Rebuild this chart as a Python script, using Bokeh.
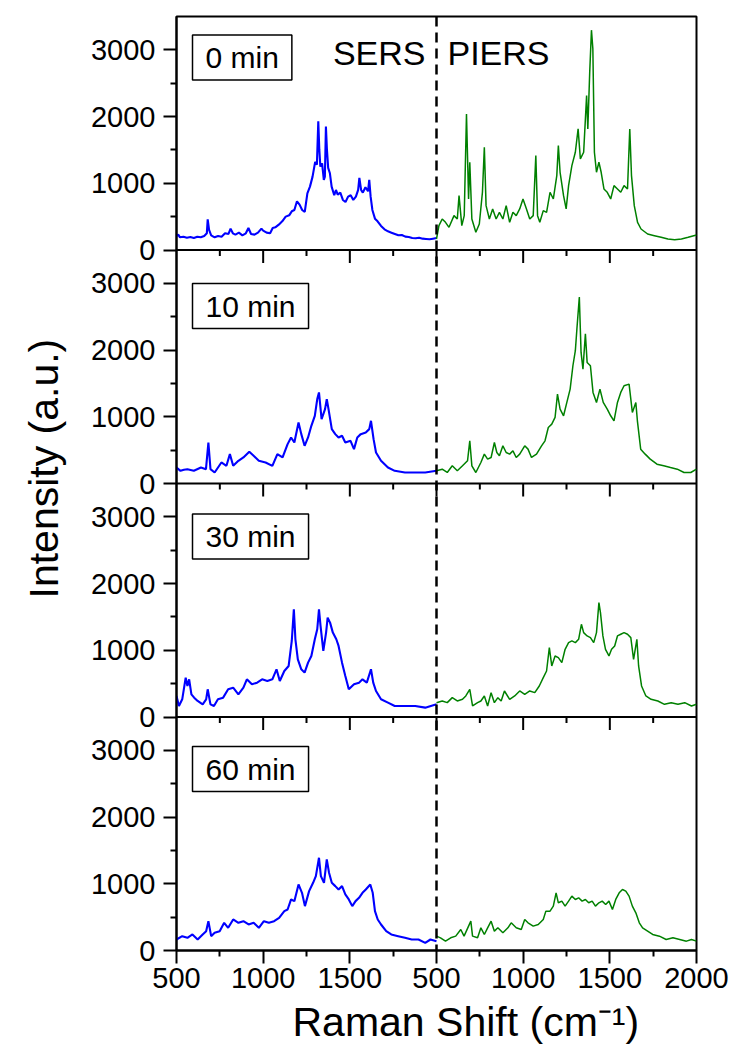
from math import pi
from bokeh.plotting import figure
from bokeh.models import Range1d, FixedTicker, Span, Label, Title
from bokeh.embed import file_html
from bokeh.resources import INLINE

# ---------------- data ----------------
panel_labels = ["0 min", "10 min", "30 min", "60 min"]

x_tick_positions = [500, 1000, 1500, 2000, 2500, 3000, 3500]
x_tick_labels = ["500", "1000", "1500", "500", "1000", "1500", "2000"]
y_tick_values = [0, 1000, 2000, 3000]
y_minor_values = [500, 1500, 2500]

# 0 min
sers_x_0 = [500,510,520,540,560,580,600,620,640,660,675,680,688,700,720,740,760,780,800,812,825,840,860,880,900,915,930,950,970,990,1000,1020,1040,1055,1070,1090,1110,1130,1150,1165,1180,1195,1210,1225,1240,1255,1270,1285,1300,1310,1318,1324,1330,1340,1350,1356,1362,1368,1375,1385,1395,1410,1420,1430,1445,1460,1475,1490,1505,1520,1535,1548,1555,1565,1575,1590,1605,1612,1620,1630,1645,1660,1680,1700,1720,1740,1760,1780,1800,1820,1840,1860,1880,1900,1920,1940,1960,1980,2000]
sers_y_0 = [210,230,190,200,185,195,180,200,190,210,250,460,300,220,190,210,200,250,240,320,250,230,260,220,250,330,240,230,260,320,290,260,250,330,340,380,430,500,520,580,600,730,680,600,570,850,950,1100,1320,1280,1930,1500,1250,1300,1050,1100,1850,1500,1230,1150,950,820,900,830,860,750,720,800,820,750,800,900,1080,900,860,940,880,1050,800,600,470,430,360,310,280,260,240,220,225,200,195,180,175,185,170,165,160,170,180]
piers_x_0 = [500,514,533,552,572,601,620,630,646,660,673,685,692,704,727,747,765,776,786,805,824,844,863,883,902,922,941,960,980,999,1019,1038,1058,1073,1083,1096,1116,1135,1155,1174,1194,1203,1213,1233,1248,1262,1281,1301,1317,1330,1349,1366,1373,1384,1394,1402,1411,1423,1437,1450,1466,1485,1505,1524,1544,1563,1582,1602,1615,1625,1641,1660,1680,1718,1757,1796,1835,1874,1913,1952,2000]
piers_y_0 = [165,365,465,415,340,515,465,815,365,515,2040,765,1315,465,265,390,865,1540,665,465,615,465,565,465,665,415,565,515,615,765,615,465,515,1415,515,415,590,565,865,765,1115,1565,1165,815,615,965,1265,1465,1815,1365,1465,2315,1815,2670,3295,3020,1465,1165,1315,1165,915,865,765,965,915,865,965,915,1815,1115,665,415,315,240,215,190,165,155,165,190,225]

# 10 min
sers_x_1 = [500,523,543,563,600,641,670,684,696,720,759,788,808,827,857,886,920,945,975,1014,1053,1082,1112,1141,1161,1180,1204,1220,1239,1259,1278,1298,1312,1322,1337,1357,1367,1377,1396,1416,1435,1455,1474,1504,1524,1543,1563,1592,1612,1622,1637,1651,1680,1720,1759,1818,1877,1935,2000]
sers_y_1 = [240,190,205,215,190,240,215,615,215,165,315,265,440,265,340,390,475,415,340,315,265,440,390,590,690,615,915,740,565,690,865,1015,1265,1365,965,1115,1265,1115,815,740,690,715,615,640,515,690,740,765,815,940,665,465,340,240,190,165,165,165,190]
piers_x_1 = [500,533,562,591,620,650,679,692,704,727,756,776,795,815,834,848,863,883,902,922,941,960,980,1009,1028,1048,1077,1106,1126,1145,1165,1184,1198,1213,1233,1252,1271,1287,1301,1310,1324,1334,1345,1359,1369,1388,1403,1423,1443,1462,1485,1505,1524,1544,1563,1582,1611,1630,1650,1659,1678,1704,1733,1772,1811,1850,1889,1928,1967,2000]
piers_y_1 = [190,215,165,265,190,265,340,640,265,165,315,440,365,390,615,465,415,565,465,440,490,390,440,565,515,390,440,565,640,840,890,990,1340,1115,1015,1215,1415,1765,1990,2315,2795,1965,1715,2245,1815,1765,1365,1215,1415,1215,1115,1015,940,1215,1365,1465,1490,1065,1215,940,515,440,365,290,265,240,215,165,165,215]

# 30 min
sers_x_2 = [500,514,533,553,563,573,586,602,622,651,671,680,696,716,739,769,798,827,857,886,906,935,965,994,1024,1053,1077,1096,1122,1147,1165,1177,1186,1200,1220,1239,1259,1278,1298,1312,1322,1331,1347,1363,1372,1386,1402,1422,1435,1455,1474,1494,1524,1553,1573,1598,1622,1635,1651,1680,1720,1759,1818,1877,1935,2000]
sers_y_2 = [315,165,265,590,465,565,340,290,240,190,265,415,190,165,265,290,415,440,340,440,565,490,515,565,540,565,715,540,690,765,1140,1615,1165,865,715,665,815,915,1165,1315,1615,1365,990,1265,1490,1415,1265,1165,1065,815,615,415,490,515,565,515,715,515,390,265,215,165,165,165,140,190]
piers_x_2 = [500,533,562,591,620,650,669,692,708,737,756,776,795,815,834,854,873,892,922,951,980,1009,1038,1067,1093,1116,1135,1151,1165,1184,1203,1223,1242,1262,1281,1301,1320,1336,1349,1369,1388,1407,1423,1437,1446,1460,1475,1495,1510,1528,1544,1563,1582,1602,1621,1637,1656,1666,1683,1708,1738,1777,1815,1854,1893,1932,1971,2000]
piers_y_2 = [215,240,215,290,240,265,315,415,165,215,240,315,165,365,215,290,240,390,265,315,390,340,390,365,465,590,690,1040,765,915,890,815,1015,1115,1140,1115,1165,1390,1265,1215,1190,1115,1265,1715,1565,1215,1015,915,1015,1065,1215,1240,1265,1240,1190,865,1165,765,465,315,265,240,190,215,190,215,165,190]

# 60 min
sers_x_3 = [500,533,563,592,622,651,671,684,700,720,749,775,798,827,857,886,916,945,975,1004,1033,1063,1092,1122,1141,1161,1180,1204,1224,1241,1265,1288,1304,1322,1333,1351,1367,1380,1396,1416,1435,1455,1474,1494,1514,1533,1553,1573,1592,1618,1632,1645,1661,1680,1710,1739,1779,1818,1857,1896,1935,1965,2000]
sers_y_3 = [165,215,190,240,165,240,290,440,215,265,290,415,340,465,415,440,390,415,340,440,415,440,490,590,615,765,740,990,865,665,890,1015,1115,1390,1115,1015,1365,1165,1015,965,915,965,840,765,665,740,790,865,915,990,865,590,465,390,290,240,215,190,165,165,115,165,140]
piers_x_3 = [500,523,552,582,611,640,659,685,698,708,737,756,776,795,815,834,854,883,912,931,960,989,1009,1028,1058,1087,1116,1131,1155,1174,1190,1203,1223,1242,1262,1281,1301,1320,1340,1359,1378,1398,1417,1437,1456,1476,1495,1515,1534,1554,1573,1592,1611,1630,1650,1670,1689,1718,1747,1786,1825,1864,1903,1942,1971,2000]
piers_y_3 = [215,190,140,190,215,315,215,365,440,215,190,340,240,340,440,290,340,265,340,415,340,315,465,415,365,390,465,590,590,665,865,715,740,665,740,815,765,790,740,765,715,740,665,715,740,690,740,615,765,865,915,890,815,665,565,415,340,290,240,215,165,190,165,140,165,140]

sers_x = [sers_x_0, sers_x_1, sers_x_2, sers_x_3]
sers_y = [sers_y_0, sers_y_1, sers_y_2, sers_y_3]
piers_x = [piers_x_0, piers_x_1, piers_x_2, piers_x_3]
piers_y = [piers_y_0, piers_y_1, piers_y_2, piers_y_3]

# ---------------- layout constants ----------------
PANEL = 3500            # intensity span of one panel
NP = len(panel_labels)
FONT = "Liberation Sans"
label_drop = [41, 56, 53, 52]   # px from panel top to centre of the time box

p = figure(width=736, height=1061, output_backend="svg", toolbar_location=None,
           x_range=Range1d(500, 3500), y_range=Range1d(0, NP * PANEL),
           min_border_left=176, min_border_right=40, min_border_top=16,
           min_border_bottom=111, background_fill_color="white",
           border_fill_color="white")
p.extra_x_ranges = {"piers": Range1d(500 - 1500, 2000)}
p.extra_y_ranges = {f"p{i}": Range1d(-(NP - 1 - i) * PANEL, NP * PANEL - (NP - 1 - i) * PANEL)
                    for i in range(NP)}

p.xgrid.visible = False
p.ygrid.visible = False
p.outline_line_color = "black"
p.outline_line_width = 2

# ---------------- spectra ----------------
for i in range(NP):
    p.line(sers_x[i], sers_y[i], y_range_name=f"p{i}", line_color="#0000ff", line_width=2.1)
    p.line(piers_x[i], piers_y[i], x_range_name="piers", y_range_name=f"p{i}",
           line_color="#008000", line_width=1.5)

# ---------------- axes ----------------
x_minor = [t + 250 for t in x_tick_positions[:-1]]
p.xaxis.ticker = FixedTicker(ticks=x_tick_positions, minor_ticks=x_minor)
p.xaxis.major_label_overrides = {t: l for t, l in zip(x_tick_positions, x_tick_labels)}

y_major, y_minor, y_over = [], [], {}
for k in range(NP):
    for v in y_tick_values:
        y_major.append(k * PANEL + v)
        y_over[k * PANEL + v] = str(v)
    for v in y_minor_values:
        y_minor.append(k * PANEL + v)
p.yaxis.ticker = FixedTicker(ticks=y_major, minor_ticks=y_minor)
p.yaxis.major_label_overrides = y_over

for ax in (p.xaxis[0], p.yaxis[0]):
    ax.axis_line_width = 2
    ax.axis_line_color = "black"
    ax.major_tick_line_width = 2
    ax.minor_tick_line_width = 2
    ax.major_tick_out = 13
    ax.major_tick_in = 0
    ax.minor_tick_out = 6
    ax.minor_tick_in = 0
    ax.major_label_text_font = FONT
    ax.major_label_text_font_size = "29px"
    ax.major_label_text_color = "black"
p.xaxis.major_label_standoff = 4
p.yaxis.major_label_standoff = 8

# axis titles (placed in the side panels so that they are not clipped)
p.add_layout(Title(text="Intensity (a.u.)", align="left", vertical_align="top",
                   offset=352, standoff=38, text_font=FONT, text_font_size="41px",
                   text_font_style="normal", text_color="black"), "left")
p.add_layout(Title(text="Raman Shift (cm\u207b\u00b9)", align="left", offset=116,
                   standoff=12, text_font=FONT, text_font_size="41px",
                   text_font_style="normal", text_color="black"), "below")

# panel boundaries and the ticks of the inner x axes
inner_major = x_tick_positions[1:-1]
for k in range(1, NP):
    p.add_layout(Span(location=k * PANEL, dimension="width", line_color="black", line_width=2))
    p.ray(x=inner_major, y=[k * PANEL] * len(inner_major), length=13, length_units="screen",
          angle=-pi / 2, line_color="black", line_width=2)
    p.ray(x=x_minor, y=[k * PANEL] * len(x_minor), length=6, length_units="screen",
          angle=-pi / 2, line_color="black", line_width=2)

# SERS / PIERS separator
p.add_layout(Span(location=2000, dimension="height", line_color="black",
                  line_width=2.5, line_dash="10 6"))

# ---------------- texts inside the frame ----------------
for i, name in enumerate(panel_labels):
    p.add_layout(Label(x=500, y=PANEL, y_range_name=f"p{i}", x_offset=16,
                       y_offset=-label_drop[i], text=name, text_font=FONT,
                       text_font_size="30px", text_color="black", text_align="left",
                       text_baseline="middle", border_line_color="black",
                       border_line_width=1.5, background_fill_color="white",
                       padding=(13, 6)))

p.add_layout(Label(x=2000, y=NP * PANEL, x_offset=-11, y_offset=-36, text="SERS",
                   text_font=FONT, text_font_size="34px", text_align="right",
                   text_baseline="alphabetic", text_color="black"))
p.add_layout(Label(x=2000, y=NP * PANEL, x_offset=11, y_offset=-36, text="PIERS",
                   text_font=FONT, text_font_size="34px", text_align="left",
                   text_baseline="alphabetic", text_color="black"))

open("out.html", "w").write(file_html(p, INLINE))
